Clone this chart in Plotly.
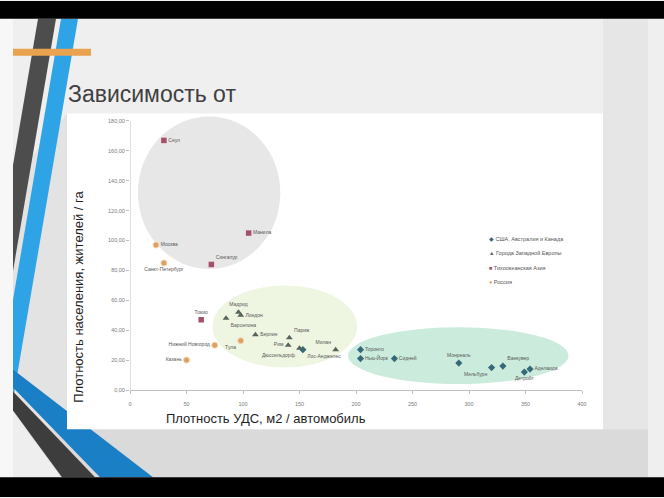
import plotly.graph_objects as go

W, H = 664, 498

# ---------------- data ----------------
russia_names = ["Москва", "Санкт-Петербург", "Нижний Новгород", "Казань", "Тула"]
russia_x = [23, 30, 75, 50, 98]
russia_y = [97, 85, 30, 20, 33]

asia_names = ["Сеул", "Манила", "Сингапур", "Токио"]
asia_x = [30, 105, 72, 63]
asia_y = [167, 105, 84, 47]

europe_names = ["Мадрид", "Лондон", "Барселона", "Берлин", "Париж", "Рим", "Дюссельдорф", "Милан"]
europe_x = [96, 98, 85, 111, 141, 140, 150, 182]
europe_y = [52, 50, 48, 37, 35, 30, 28, 27]

us_names = ["Лос-Анджелес", "Торонто", "Нью-Йорк", "Сидней", "Монреаль", "Мельбурн", "Ванкувер", "Детройт", "Аделаида"]
us_x = [153, 204, 204, 234, 291, 320, 330, 349, 354]
us_y = [27, 27, 21, 21, 18, 15, 16, 12, 14]

legend_labels = ["США, Австралия и Канада", "Города Западной Европы", "Тихоокеанская Азия", "Россия"]

x_ticks = [0, 50, 100, 150, 200, 250, 300, 350, 400]
y_ticks = [0, 20, 40, 60, 80, 100, 120, 140, 160, 180]
x_tick_labels = [str(v) for v in x_ticks]
y_tick_labels = [f"{v:.2f}".replace(".", ",") for v in y_ticks]

# cluster highlight regions (data units: x0, x1, y0, y1)
asia_region = (7, 133, 81, 183)
europe_region = (73, 201, 15, 70)
us_region = (193, 388, 4, 42)

title_text = "Зависимость от"
x_title = "Плотность УДС, м2 / автомобиль"
y_title = "Плотность населения, жителей / га"

# ---------------- styles ----------------
label_pos = {
    "Москва": "middle right", "Санкт-Петербург": "bottom center", "Нижний Новгород": "middle left",
    "Казань": "middle left", "Тула": "bottom left",
    "Сеул": "middle right", "Манила": "middle right", "Сингапур": "top right", "Токио": "top center",
    "Мадрид": "top center", "Лондон": "middle right", "Барселона": "bottom right", "Берлин": "middle right",
    "Париж": "top right", "Рим": "middle left", "Дюссельдорф": "bottom left", "Милан": "top left",
    "Лос-Анджелес": "bottom right", "Торонто": "middle right", "Нью-Йорк": "middle right",
    "Сидней": "middle right", "Монреаль": "top center", "Мельбурн": "bottom left",
    "Ванкувер": "top right", "Детройт": "bottom center", "Аделаида": "middle right",
}

C_US = "#35697a"
C_EU = "#56635a"
C_ASIA = "#a4506a"
C_RU = "#dea060"
FONT = "Liberation Sans, Arial, sans-serif"
LBL_FONT = dict(family=FONT, size=5, color="#5a5a5a")

# plot-area geometry (pixels)
L, R, B = 130, 582, 390.5
TOP_VAL = 184
T = B - TOP_VAL * 1.5

fig = go.Figure()


def add_series(names, xs, ys, name, symbol, color, size, line):
    fig.add_trace(go.Scatter(
        x=xs, y=ys, mode="markers+text", name=name,
        text=names, textposition=[label_pos[n] for n in names],
        textfont=LBL_FONT,
        marker=dict(symbol=symbol, color=color, size=size, line=line),
        cliponaxis=False, showlegend=False, hoverinfo="text+x+y",
    ))


add_series(us_names, us_x, us_y, legend_labels[0], "diamond", C_US, 5.5, dict(width=0))
add_series(europe_names, europe_x, europe_y, legend_labels[1], "triangle-up", C_EU, 6, dict(width=0))
add_series(asia_names, asia_x, asia_y, legend_labels[2], "square", C_ASIA, 5.5, dict(width=0))
add_series(russia_names, russia_x, russia_y, legend_labels[3], "circle", C_RU, 6, dict(width=1, color="#f3d6b0"))


# ---------------- decorations (pixel -> paper coords) ----------------
def fx(x):
    return (x - L) / (R - L)


def fy(y):
    return (B - y) / (B - T)


def P(x, y):
    return f"{fx(x):.5f},{fy(y):.5f}"


def poly(pts, color):
    d = "M " + " L ".join(P(x, y) for x, y in pts) + " Z"
    return dict(type="path", xref="paper", yref="paper", path=d,
                fillcolor=color, line=dict(width=0), layer="below")


def rect(x0, y0, x1, y1, color):
    return poly([(x0, y0), (x1, y0), (x1, y1), (x0, y1)], color)


shapes = []
shapes.append(rect(0, 0, 13, H, "#f7f7f7"))
shapes.append(rect(603, 18, 648, 478, "#e6e6e6"))
shapes.append(rect(13, 430, 648, 478, "#dadada"))
shapes.append(poly([(13, 180), (67, 113), (67, 430), (13, 430)], "#e3e3e3"))
# dark diagonal stripe
shapes.append(poly([(38, 18), (56, 18), (13, 271), (13, 165)], "#4d4d4d"))
# blue diagonal stripe
shapes.append(poly([(61, 18), (78, 18), (13, 400), (13, 300)], "#2ea3e6"))
# bottom bands
shapes.append(poly([(13, 370), (153, 478), (100, 478), (13, 388)], "#1b7fc6"))
shapes.append(poly([(13, 392), (95, 478), (62, 478), (13, 411)], "#3d3d3d"))
shapes.append(poly([(13, 412), (61, 478), (13, 478)], "#eeeeee"))
# orange bar
shapes.append(rect(13, 48, 91, 55, "#e9a24f"))
# white chart panel
shapes.append(rect(67, 113, 603, 430, "#ffffff"))
# black bars
shapes.append(rect(0, 0, W, 18, "#000000"))
shapes.append(rect(0, 478, W, H, "#000000"))


def ellipse(region, color):
    x0, x1, y0, y1 = region
    return dict(type="circle", xref="x", yref="y", x0=x0, x1=x1, y0=y0, y1=y1,
                fillcolor=color, line=dict(width=0), layer="below")


shapes.append(ellipse(asia_region, "#e7e7e7"))
shapes.append(ellipse(europe_region, "#eef5e1"))
shapes.append(ellipse(us_region, "#cbebdc"))
# y axis line from 0 to 180
shapes.append(dict(type="line", xref="x", yref="y", x0=0, x1=0, y0=y_ticks[0], y1=y_ticks[-1],
                   line=dict(color="#bfbfbf", width=1), layer="below"))

# ---------------- annotations ----------------
ann = []
ann.append(dict(text=title_text, xref="paper", yref="paper", x=fx(66), y=fy(93.5),
                xanchor="left", yanchor="middle", showarrow=False,
                font=dict(family=FONT, size=23, color="#404040")))
ann.append(dict(text=y_title, xref="paper", yref="paper", x=fx(79), y=fy(297),
                textangle=-90, xanchor="center", yanchor="middle", showarrow=False,
                font=dict(family=FONT, size=13, color="#1e1e1e")))
ann.append(dict(text=x_title, xref="paper", yref="paper", x=fx(266), y=fy(419),
                xanchor="center", yanchor="middle", showarrow=False,
                font=dict(family=FONT, size=13, color="#1e1e1e")))

leg_syms = [("◆", C_US), ("▲", C_EU), ("■", C_ASIA), ("●", C_RU)]
leg_y = [239, 253.5, 268, 282]
for (sym, col), lab, yy in zip(leg_syms, legend_labels, leg_y):
    ann.append(dict(text=f"<span style='color:{col}'>{sym}</span> {lab}", xref="paper", yref="paper",
                    x=fx(487), y=fy(yy), xanchor="left", yanchor="middle", showarrow=False,
                    font=dict(family=FONT, size=5.5, color="#555555")))

fig.update_layout(
    width=W, height=H,
    margin=dict(l=L, r=W - R, t=T, b=H - B),
    paper_bgcolor="#efefef", plot_bgcolor="rgba(0,0,0,0)",
    shapes=shapes, annotations=ann, showlegend=False,
    xaxis=dict(range=[0, 400], tickvals=x_ticks, ticktext=x_tick_labels,
               showgrid=False, zeroline=False, showline=True, linecolor="#bfbfbf", linewidth=1,
               ticks="outside", ticklen=3, tickcolor="#bfbfbf", ticklabelstandoff=5,
               tickfont=dict(family=FONT, size=5.5, color="#7a7a7a")),
    yaxis=dict(range=[0, TOP_VAL], tickvals=y_ticks, ticktext=y_tick_labels,
               showgrid=False, zeroline=False, showline=False,
               ticks="outside", ticklen=3, tickcolor="#bfbfbf",
               tickfont=dict(family=FONT, size=5.5, color="#7a7a7a")),
)

fig.write_html("out.html")
